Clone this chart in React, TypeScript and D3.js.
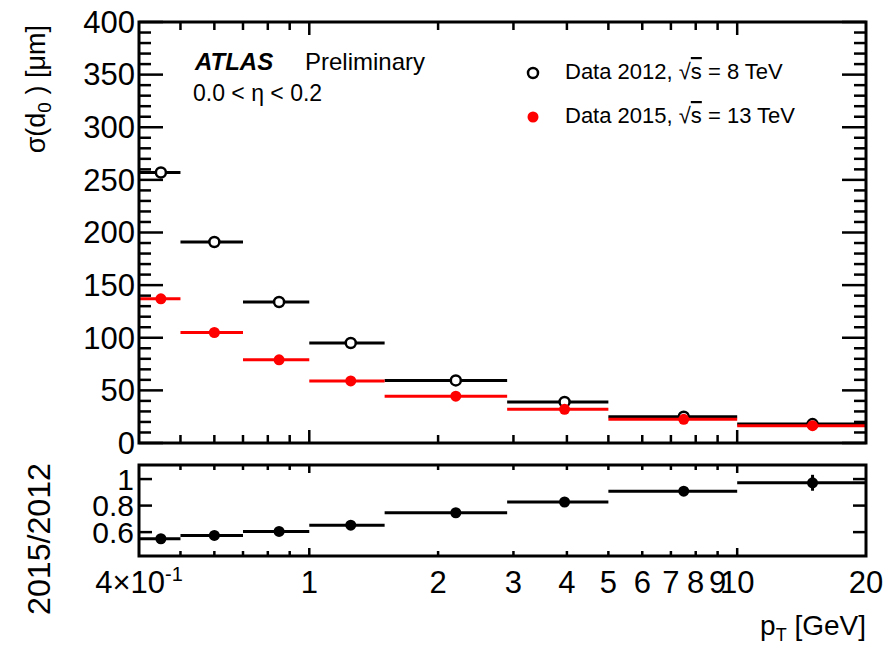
import React from "react";
import * as d3 from "d3";

const binLow = [0.4, 0.5, 0.7, 1.0, 1.5, 2.9, 5, 10];
const binHigh = [0.5, 0.7, 1.0, 1.5, 2.9, 5, 10, 20];
const binCenter = [0.45, 0.6, 0.85, 1.25, 2.2, 3.95, 7.5, 15];
const sigma2012 = [257, 191, 134, 95, 59.5, 39, 25, 18];
const sigma2015 = [137, 105, 79, 59, 44.5, 32, 22.5, 16.5];
const ratio = [0.55, 0.575, 0.605, 0.652, 0.746, 0.827, 0.909, 0.972];
const ratioErr = [0, 0, 0, 0, 0, 0.005, 0.02, 0.06];
const yMainTickLabels = [0, 50, 100, 150, 200, 250, 300, 350, 400];
const yRatioTickLabels = [0.6, 0.8, 1];
const xTickLabels = [0.4, 1, 2, 3, 4, 5, 6, 7, 8, 9, 10, 20];

const W = 889;
const H = 648;
const L = 139;
const R = 866;
const MT = 22;
const MB = 443;
const RT = 465;
const RB = 556;
const FONT = "'Liberation Sans', Arial, Helvetica, sans-serif";

export default function App() {
  const x = d3.scaleLog().domain([0.4, 20]).range([L, R]);
  const yMain = d3.scaleLinear().domain([0, 400]).range([MB, MT]);
  const yRatio = d3.scaleLinear().domain([0.42, 1.106]).range([RB, RT]);

  const xTicks = x.ticks().filter((v) => v > 0.4 && v < 20);
  const isMajorX = (v: number) => Math.abs(v - 1) < 1e-9 || Math.abs(v - 10) < 1e-9;
  const yMinor = d3.range(0, 401, 10);

  const sw = 2.5;

  const xTickMarks = (top: number, bottom: number, maj: number, min: number, key: string) =>
    xTicks.map((v, i) => {
      const len = isMajorX(v) ? maj : min;
      return (
        <g key={key + i}>
          <line x1={x(v)} x2={x(v)} y1={bottom} y2={bottom - len} stroke="#000" strokeWidth={sw} />
          <line x1={x(v)} x2={x(v)} y1={top} y2={top + len} stroke="#000" strokeWidth={sw} />
        </g>
      );
    });

  return (
    <svg width={W} height={H} style={{ position: "absolute", left: 0, top: 0, background: "#fff" }} fontFamily={FONT}>
      <rect x={0} y={0} width={W} height={H} fill="#fff" />
      {/* ===== main panel ===== */}
      {xTickMarks(MT, MB, 13, 8, "mx")}
      {yMinor.map((v, i) => {
        const len = v % 50 === 0 ? 24 : 12;
        return (
          <g key={"my" + i}>
            <line x1={L} x2={L + len} y1={yMain(v)} y2={yMain(v)} stroke="#000" strokeWidth={sw} />
            <line x1={R} x2={R - len} y1={yMain(v)} y2={yMain(v)} stroke="#000" strokeWidth={sw} />
          </g>
        );
      })}
      {yMainTickLabels.map((v) => (
        <text key={"myl" + v} x={135} y={yMain(v)} dy="0.35em" textAnchor="end" fontSize={31} fill="#000">
          {v}
        </text>
      ))}
      <text transform={`translate(45,25) rotate(-90)`} textAnchor="end" fontSize={27} fill="#000">
        σ(d<tspan fontSize={19} dy={6}>0</tspan>
        <tspan dy={-6}> ) [μm]</tspan>
      </text>

      {/* 2012 series */}
      {binCenter.map((c, i) => (
        <line key={"b12" + i} x1={x(binLow[i])} x2={x(binHigh[i])} y1={yMain(sigma2012[i])} y2={yMain(sigma2012[i])} stroke="#000" strokeWidth={3} />
      ))}
      {binCenter.map((c, i) => (
        <circle key={"c12" + i} cx={x(c)} cy={yMain(sigma2012[i])} r={5} fill="#fff" stroke="#000" strokeWidth={2.5} />
      ))}
      {/* 2015 series */}
      {binCenter.map((c, i) => (
        <line key={"b15" + i} x1={x(binLow[i])} x2={x(binHigh[i])} y1={yMain(sigma2015[i])} y2={yMain(sigma2015[i])} stroke="#ff0000" strokeWidth={3} />
      ))}
      {binCenter.map((c, i) => (
        <circle key={"c15" + i} cx={x(c)} cy={yMain(sigma2015[i])} r={5.5} fill="#ff0000" />
      ))}

      <rect x={L} y={MT} width={R - L} height={MB - MT} fill="none" stroke="#000" strokeWidth={3} />

      {/* labels */}
      <text x={195} y={70} fontSize={24} fontWeight="bold" fontStyle="italic" fill="#000">ATLAS</text>
      <text x={305} y={70} fontSize={24} fill="#000">Preliminary</text>
      <text x={193} y={101} fontSize={23} fill="#000">0.0 &lt; η &lt; 0.2</text>

      {/* legend */}
      <circle cx={533} cy={73} r={5} fill="#fff" stroke="#000" strokeWidth={2.5} />
      <text x={565} y={79} fontSize={22} fill="#000">
        Data 2012, √<tspan style={{ textDecoration: "overline" }}>s</tspan> = 8 TeV
      </text>
      <circle cx={533} cy={117} r={5.5} fill="#ff0000" />
      <text x={565} y={123} fontSize={22} fill="#000">
        Data 2015, √<tspan style={{ textDecoration: "overline" }}>s</tspan> = 13 TeV
      </text>

      {/* ===== ratio panel ===== */}
      {xTickMarks(RT, RB, 8, 5, "rx")}
      {yRatioTickLabels.map((v) => (
        <g key={"ry" + v}>
          <line x1={L} x2={L + 13} y1={yRatio(v)} y2={yRatio(v)} stroke="#000" strokeWidth={sw} />
          <line x1={R} x2={R - 13} y1={yRatio(v)} y2={yRatio(v)} stroke="#000" strokeWidth={sw} />
        </g>
      ))}
      <defs>
        <clipPath id="ratioLabelClip">
          <rect x={0} y={RT} width={L} height={H - RT} />
        </clipPath>
      </defs>
      <g clipPath="url(#ratioLabelClip)">
        {yRatioTickLabels.map((v) => (
          <text key={"ryl" + v} x={134} y={yRatio(v)} dy="0.35em" textAnchor="end" fontSize={30} fill="#000">
            {v}
          </text>
        ))}
      </g>
      <text transform={`translate(50,539) rotate(-90)`} textAnchor="middle" fontSize={32} textLength={152} lengthAdjust="spacingAndGlyphs" fill="#000">
        2015/2012
      </text>
      {binCenter.map((c, i) => (
        <g key={"r" + i}>
          <line x1={x(binLow[i])} x2={x(binHigh[i])} y1={yRatio(ratio[i])} y2={yRatio(ratio[i])} stroke="#000" strokeWidth={3} />
          {ratioErr[i] > 0 && (
            <line x1={x(c)} x2={x(c)} y1={yRatio(ratio[i] - ratioErr[i])} y2={yRatio(ratio[i] + ratioErr[i])} stroke="#000" strokeWidth={3} />
          )}
          <circle cx={x(c)} cy={yRatio(ratio[i])} r={5.5} fill="#000" />
        </g>
      ))}
      <rect x={L} y={RT} width={R - L} height={RB - RT} fill="none" stroke="#000" strokeWidth={3} />

      {xTickLabels.map((v) => (
        <text key={"xl" + v} x={x(v)} y={593} textAnchor="middle" fontSize={31} fill="#000">
          {v === 0.4 ? (
            <>
              4×10<tspan fontSize={20} dy={-12}>-1</tspan>
            </>
          ) : (
            v
          )}
        </text>
      ))}
      <text x={866} y={635} textAnchor="end" fontSize={28} fill="#000">
        p<tspan fontSize={18} dy={6}>T</tspan>
        <tspan dy={-6}> [GeV]</tspan>
      </text>
    </svg>
  );
}
